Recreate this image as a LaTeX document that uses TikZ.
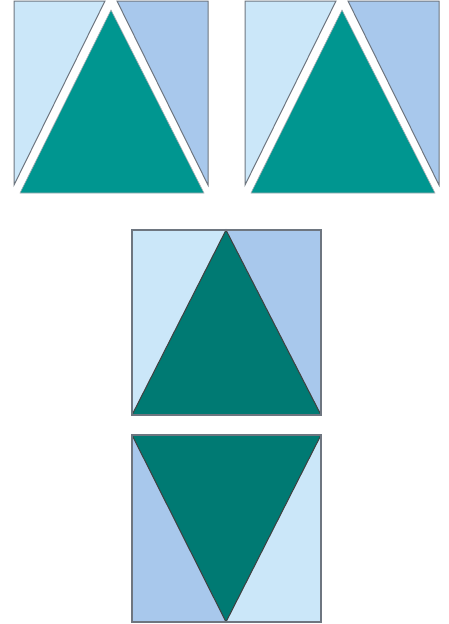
\documentclass[tikz,border=0pt]{standalone}
\definecolor{lightb}{HTML}{CBE7F9}
\definecolor{darkb}{HTML}{A8C8EC}
\definecolor{tealA}{HTML}{009690}
\definecolor{tealB}{HTML}{007A73}
\definecolor{edge}{HTML}{6E7680}
\begin{document}
\begin{tikzpicture}[x=1pt,y=-1pt,
  piece/.style={draw=edge,line width=1pt,line join=miter},
  tri/.style={draw=edge!60,line width=0.6pt,fill=tealA},
  tri2/.style={draw=black!75,line width=1pt,fill=tealB,line join=miter},
  frame/.style={draw=edge,line width=1.6pt}]
\useasboundingbox (0,0) rectangle (449,624);
% top squares
\foreach \dx in {0,231}{
  \begin{scope}[xshift=\dx pt]
    \fill[white] (14,0) rectangle (208,193);
    \filldraw[piece,fill=lightb] (14,1) -- (105,1) -- (14,185) -- cycle;
    \filldraw[piece,fill=darkb] (117,1) -- (208,1) -- (208,185) -- cycle;
    \filldraw[tri] (111,10) -- (204,193) -- (20,193) -- cycle;
  \end{scope}
}
% bottom upper square
\fill[lightb] (132,230) -- (226,230) -- (132,415) -- cycle;
\fill[darkb] (226,230) -- (321,230) -- (321,415) -- cycle;
\filldraw[tri2] (226,230) -- (321,415) -- (132,415) -- cycle;
\draw[frame] (132,230) rectangle (321,415);
% bottom lower square
\fill[darkb] (132,435) -- (226,622) -- (132,622) -- cycle;
\fill[lightb] (321,435) -- (321,622) -- (226,622) -- cycle;
\filldraw[tri2] (132,435) -- (321,435) -- (226,622) -- cycle;
\draw[frame] (132,435) rectangle (321,622);
\end{tikzpicture}
\end{document}
